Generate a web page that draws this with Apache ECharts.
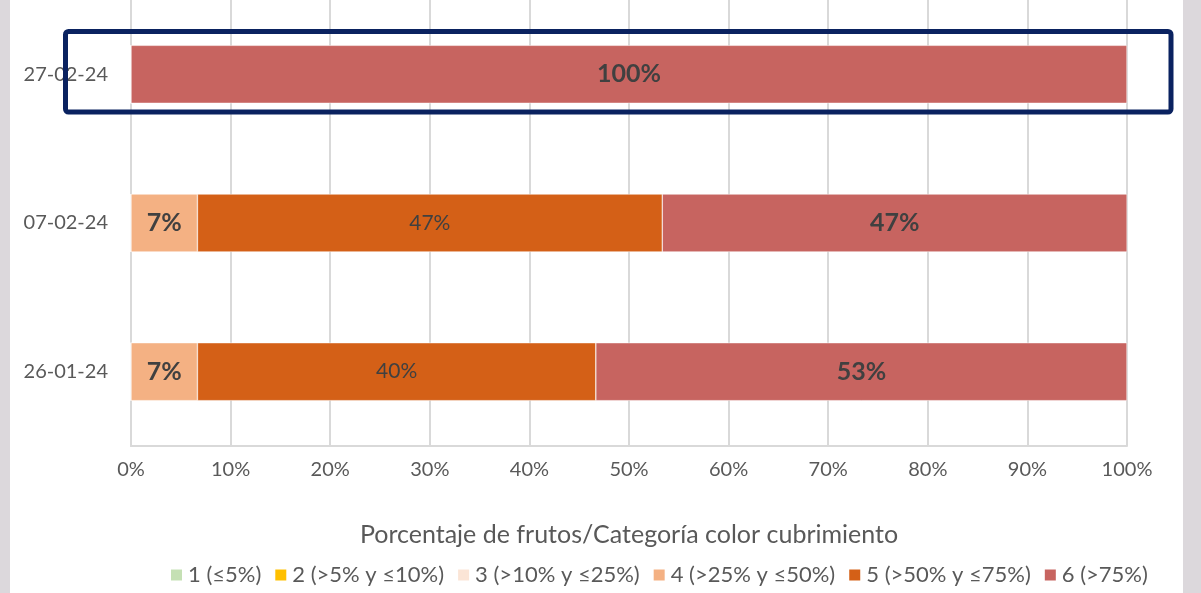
<!DOCTYPE html>
<html>
<head>
<meta charset="utf-8">
<script src="https://cdn.jsdelivr.net/npm/echarts@6/dist/echarts.min.js"></script>
<style>
  html, body { margin: 0; padding: 0; background: #fff; }
  #chart { width: 1201px; height: 593px; }
</style>
</head>
<body>
<div id="chart"></div>
<script>
// fechas (de abajo hacia arriba)
const fechas = ['26-01-24', '07-02-24', '27-02-24'];
// porcentaje de frutos por categoría
const cat1 = [0, 0, 0];
const cat2 = [0, 0, 0];
const cat3 = [0, 0, 0];
const cat4 = [6.67, 6.67, 0];
const cat5 = [40, 46.67, 0];
const cat6 = [53.33, 46.67, 100];
const nombres = ['1 (≤5%)', '2 (>5% y ≤10%)', '3 (>10% y ≤25%)', '4 (>25% y ≤50%)', '5 (>50% y ≤75%)', '6 (>75%)'];
const colores = ['#c5e0b4', '#ffc000', '#fbe5d6', '#f4b183', '#d46017', '#c76460'];
const xTicks = [0, 10, 20, 30, 40, 50, 60, 70, 80, 90, 100];

const FONT = 'Lato';
const datos = [cat1, cat2, cat3, cat4, cat5, cat6];

const chart = echarts.init(document.getElementById('chart'));

function serie(i) {
  const bold = i === 3 || i === 5;
  return {
    name: nombres[i],
    type: 'bar',
    stack: 'total',
    barWidth: '39%',
    data: datos[i],
    itemStyle: { color: colores[i], borderColor: '#fff', borderWidth: 0.5 },
    label: {
      show: i >= 3,
      position: 'inside',
      fontFamily: FONT,
      fontSize: bold ? 25 : 21,
      fontWeight: bold ? 'bold' : 'normal',
      color: '#404040',
      formatter: (p) => (p.value > 0 ? Math.round(p.value) + '%' : '')
    }
  };
}

chart.setOption({
  animation: false,
  textStyle: { fontFamily: FONT },
  grid: { left: 131, right: 74, top: 0, bottom: 147 },
  legend: {
    bottom: 2,
    left: 164,
    itemWidth: 13,
    itemHeight: 13,
    itemGap: 12,
    icon: 'rect',
    textStyle: { fontFamily: FONT, fontSize: 22, color: '#595959' },
    data: nombres
  },
  xAxis: {
    type: 'value',
    min: 0,
    max: 100,
    interval: 10,
    name: 'Porcentaje de frutos/Categoría color cubrimiento',
    nameLocation: 'middle',
    nameGap: 76,
    nameTextStyle: { fontFamily: FONT, fontSize: 25, color: '#595959' },
    axisLine: { show: true, lineStyle: { color: '#d9d9d9', width: 2 } },
    axisTick: { show: false },
    splitLine: { show: true, lineStyle: { color: '#d9d9d9', width: 2 } },
    axisLabel: {
      margin: 14,
      fontFamily: FONT,
      fontSize: 20,
      color: '#595959',
      formatter: (v) => (xTicks.includes(v) ? v + '%' : '')
    }
  },
  yAxis: {
    type: 'category',
    data: fechas,
    axisLine: { show: true, lineStyle: { color: '#d9d9d9', width: 2 } },
    axisTick: { show: false },
    axisLabel: { margin: 23, fontFamily: FONT, fontSize: 20, color: '#595959' }
  },
  series: [0, 1, 2, 3, 4, 5].map(serie),
  graphic: [
    { type: 'rect', left: 0, top: 0, shape: { width: 10, height: 593 }, style: { fill: '#dcd8dc' }, silent: true },
    { type: 'rect', left: 1183, top: 0, shape: { width: 18, height: 593 }, style: { fill: '#dcd8dc' }, silent: true },
    {
      type: 'rect',
      shape: { x: 65.5, y: 31.5, width: 1105.5, height: 80.5, r: 3 },
      style: { fill: 'none', stroke: '#0a2260', lineWidth: 5 },
      silent: true,
      z: 100
    }
  ]
});
</script>
</body>
</html>
